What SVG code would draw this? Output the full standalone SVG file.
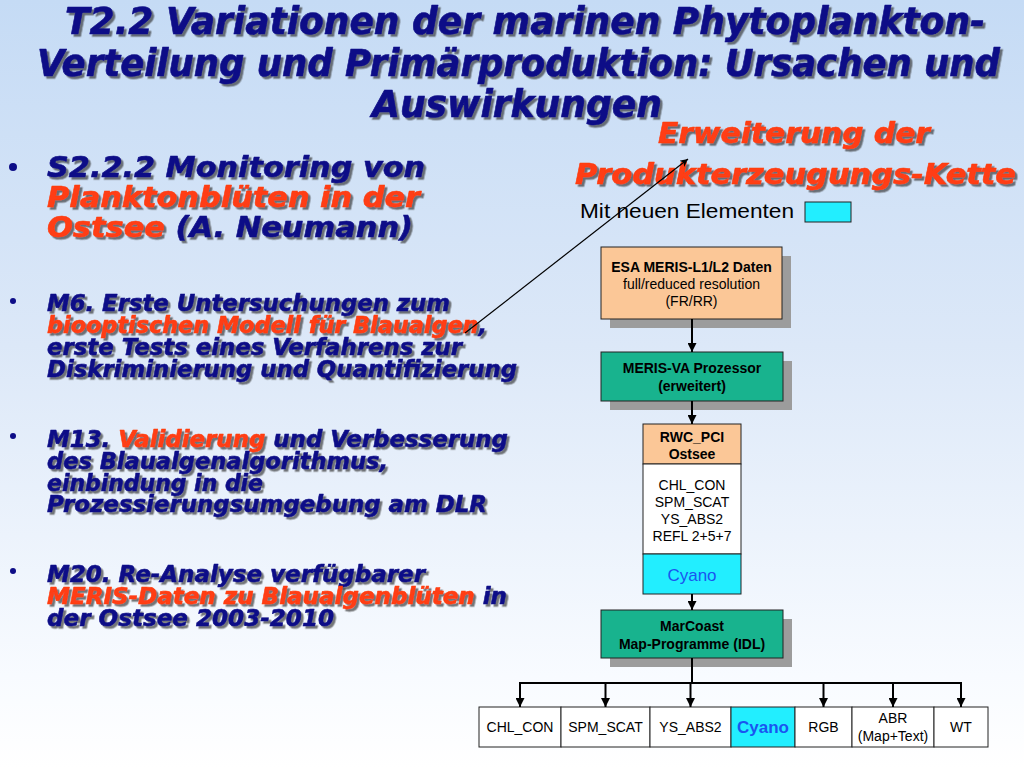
<svg xmlns="http://www.w3.org/2000/svg" width="1024" height="768" viewBox="0 0 1024 768">
<defs>
<linearGradient id="bg" x1="0" y1="0" x2="0" y2="1">
<stop offset="0" stop-color="#c5dbf5"/>
<stop offset="0.45" stop-color="#dce8f8"/>
<stop offset="0.88" stop-color="#f8fbff"/>
<stop offset="1" stop-color="#ffffff"/>
</linearGradient>
<filter id="tsh" x="-5%" y="-20%" width="110%" height="150%">
<feDropShadow dx="2.5" dy="2.5" stdDeviation="0.7" flood-color="#333" flood-opacity="0.65"/>
</filter>
<marker id="ah" viewBox="0 0 10 10" refX="10" refY="5" markerWidth="9" markerHeight="9" orient="auto" markerUnits="userSpaceOnUse">
<path d="M0,0 L10,5 L0,10 z" fill="#000"/>
</marker>
<marker id="ahs" viewBox="0 0 10 10" refX="10" refY="5" markerWidth="10" markerHeight="8" orient="auto" markerUnits="userSpaceOnUse">
<path d="M0,0 L10,5 L0,10 L3,5 z" fill="#000"/>
</marker>
<style>
.t{font-family:"DejaVu Sans",Verdana,sans-serif;font-weight:bold;font-style:italic;filter:url(#tsh);stroke-width:0.6px;stroke-linejoin:round}
.tc{font-family:"DejaVu Sans Condensed","DejaVu Sans",Verdana,sans-serif;font-stretch:condensed}
.nv{fill:#0d0d87;stroke:#0d0d87}
.or{fill:#ff3d12;stroke:#ff3d12}
.h{font-size:37px}
.b1{font-size:29px}
.b2{font-size:23px}
.rt{font-size:28px}
.f{font-family:"Liberation Sans",Arial,sans-serif;font-size:14px;fill:#000;text-anchor:middle}
.bd{font-weight:bold}
.box{stroke:#222;stroke-width:1}
.sh{fill:#9c9c9c}
.pe{fill:#fbc797}
.gr{fill:#18b38e}
.cy{fill:#22eeff}
.wh{fill:#ffffff}
.cn{stroke:#000;stroke-width:2;fill:none}
.dot{fill:#0d0d87}
.blue{font-size:17px;fill:#1a55f0}
</style>
</defs>
<rect x="0" y="0" width="1024" height="768" fill="url(#bg)"/>

<g id="title" class="t tc nv h">
<text x="65" y="34" textLength="920" lengthAdjust="spacingAndGlyphs">T2.2 Variationen der marinen Phytoplankton-</text>
<text x="37" y="76" textLength="963" lengthAdjust="spacingAndGlyphs">Verteilung und Primärproduktion: Ursachen und</text>
<text x="372" y="117" textLength="290" lengthAdjust="spacingAndGlyphs">Auswirkungen</text>
</g>

<g id="bullet1">
<circle class="dot" cx="13" cy="167" r="4"/>
<text class="t b1 nv" x="47" y="177" textLength="378" lengthAdjust="spacingAndGlyphs">S2.2.2 Monitoring von</text>
<text class="t b1 or" x="47" y="207" textLength="373" lengthAdjust="spacingAndGlyphs">Planktonblüten in der</text>
<text class="t b1" x="47" y="237" textLength="366" lengthAdjust="spacingAndGlyphs"><tspan class="or">Ostsee</tspan><tspan class="nv"> (A. Neumann)</tspan></text>
</g>

<g id="bullet2">
<circle class="dot" cx="13" cy="301" r="3"/>
<text class="t b2 nv" x="47" y="311" textLength="403" lengthAdjust="spacingAndGlyphs">M6. Erste Untersuchungen zum</text>
<text class="t b2" x="47" y="333" textLength="440" lengthAdjust="spacingAndGlyphs"><tspan class="or">biooptischen Modell für Blaualgen</tspan><tspan class="nv">,</tspan></text>
<text class="t b2 nv" x="47" y="355" textLength="415" lengthAdjust="spacingAndGlyphs">erste Tests eines Verfahrens zur</text>
<text class="t b2 nv" x="47" y="377" textLength="470" lengthAdjust="spacingAndGlyphs">Diskriminierung und Quantifizierung</text>
</g>

<g id="bullet3">
<circle class="dot" cx="13" cy="436" r="3"/>
<text class="t b2" x="47" y="447" textLength="461" lengthAdjust="spacingAndGlyphs"><tspan class="nv">M13. </tspan><tspan class="or">Validierung</tspan><tspan class="nv"> und Verbesserung</tspan></text>
<text class="t b2 nv" x="47" y="469" textLength="341" lengthAdjust="spacingAndGlyphs">des Blaualgenalgorithmus,</text>
<text class="t b2 nv" x="47" y="491" textLength="216" lengthAdjust="spacingAndGlyphs">einbindung in die</text>
<text class="t b2 nv" x="47" y="512" textLength="440" lengthAdjust="spacingAndGlyphs">Prozessierungsumgebung am DLR</text>
</g>

<g id="bullet4">
<circle class="dot" cx="13" cy="571" r="3"/>
<text class="t b2 nv" x="47" y="582" textLength="378" lengthAdjust="spacingAndGlyphs">M20. Re-Analyse verfügbarer</text>
<text class="t b2" x="47" y="604" textLength="460" lengthAdjust="spacingAndGlyphs"><tspan class="or">MERIS-Daten zu Blaualgenblüten</tspan><tspan class="nv"> in</tspan></text>
<text class="t b2 nv" x="47" y="626" textLength="287" lengthAdjust="spacingAndGlyphs">der Ostsee 2003-2010</text>
</g>

<g id="heading-right">
<text class="t rt or" x="658" y="143" textLength="272" lengthAdjust="spacingAndGlyphs">Erweiterung der</text>
<text class="t rt or" x="575" y="184" textLength="441" lengthAdjust="spacingAndGlyphs">Produkterzeugungs-Kette</text>
</g>

<g id="legend">
<text x="580" y="218" font-family="Liberation Sans, Arial, sans-serif" font-size="19.5" fill="#000" textLength="214" lengthAdjust="spacingAndGlyphs">Mit neuen Elementen</text>
<rect class="box cy" x="805" y="202" width="46" height="20"/>
</g>

<g id="esa">
<rect class="sh" x="610" y="256" width="181" height="72"/>
<rect class="box pe" x="601" y="247" width="181" height="72"/>
<text class="f bd" x="691.5" y="272">ESA MERIS-L1/L2 Daten</text>
<text class="f" x="691.5" y="289">full/reduced resolution</text>
<text class="f" x="691.5" y="306">(FR/RR)</text>
</g>

<g id="meris-va">
<rect class="sh" x="610" y="361" width="182" height="49"/>
<rect class="box gr" x="601" y="352" width="182" height="49"/>
<text class="f bd" x="692" y="373">MERIS-VA Prozessor</text>
<text class="f bd" x="692" y="391">(erweitert)</text>
</g>

<g id="rwc">
<rect class="box pe" x="643" y="424" width="98" height="40"/>
<text class="f bd" x="692" y="442">RWC_PCI</text>
<text class="f bd" x="692" y="459">Ostsee</text>
<rect class="box wh" x="643" y="464" width="98" height="90"/>
<text class="f" x="692" y="490">CHL_CON</text>
<text class="f" x="692" y="507">SPM_SCAT</text>
<text class="f" x="692" y="524">YS_ABS2</text>
<text class="f" x="692" y="541">REFL 2+5+7</text>
<rect class="box cy" x="643" y="554" width="98" height="40"/>
<text class="f blue" x="692" y="581">Cyano</text>
</g>

<g id="marcoast">
<rect class="sh" x="610" y="619" width="182" height="48"/>
<rect class="box gr" x="601" y="610" width="182" height="48"/>
<text class="f bd" x="692" y="631">MarCoast</text>
<text class="f bd" x="692" y="649">Map-Programme (IDL)</text>
</g>

<g id="out-chl"><rect class="box wh" x="479" y="707" width="82" height="40"/><text class="f" x="520" y="732">CHL_CON</text></g>
<g id="out-spm"><rect class="box wh" x="561" y="707" width="89" height="40"/><text class="f" x="605.5" y="732">SPM_SCAT</text></g>
<g id="out-ys"><rect class="box wh" x="650" y="707" width="81" height="40"/><text class="f" x="690.5" y="732">YS_ABS2</text></g>
<g id="out-cyano"><rect class="box cy" x="731" y="707" width="64" height="40"/><text class="f bd blue" x="763" y="733">Cyano</text></g>
<g id="out-rgb"><rect class="box wh" x="795" y="707" width="57" height="40"/><text class="f" x="823.5" y="732">RGB</text></g>
<g id="out-abr"><rect class="box wh" x="852" y="707" width="82" height="40"/><text class="f" x="893" y="723">ABR</text><text class="f" x="893" y="741">(Map+Text)</text></g>
<g id="out-wt"><rect class="box wh" x="934" y="707" width="54" height="40"/><text class="f" x="961" y="732">WT</text></g>

<g id="connectors">
<line x1="465" y1="333" x2="688" y2="159" stroke="#000" stroke-width="1.2" marker-end="url(#ahs)"/>
<line class="cn" x1="692" y1="319" x2="692" y2="352" marker-end="url(#ah)"/>
<line class="cn" x1="692" y1="401" x2="692" y2="424" marker-end="url(#ah)"/>
<line class="cn" x1="692" y1="594" x2="692" y2="610" marker-end="url(#ah)"/>
<line class="cn" x1="692" y1="658" x2="692" y2="683"/>
<line class="cn" x1="520" y1="683" x2="961" y2="683"/>
<line class="cn" x1="520" y1="682" x2="520" y2="707" marker-end="url(#ah)"/>
<line class="cn" x1="605.5" y1="682" x2="605.5" y2="707" marker-end="url(#ah)"/>
<line class="cn" x1="690.5" y1="682" x2="690.5" y2="707" marker-end="url(#ah)"/>
<line class="cn" x1="823.5" y1="682" x2="823.5" y2="707" marker-end="url(#ah)"/>
<line class="cn" x1="893" y1="682" x2="893" y2="707" marker-end="url(#ah)"/>
<line class="cn" x1="961" y1="682" x2="961" y2="707" marker-end="url(#ah)"/>
</g>
</svg>
